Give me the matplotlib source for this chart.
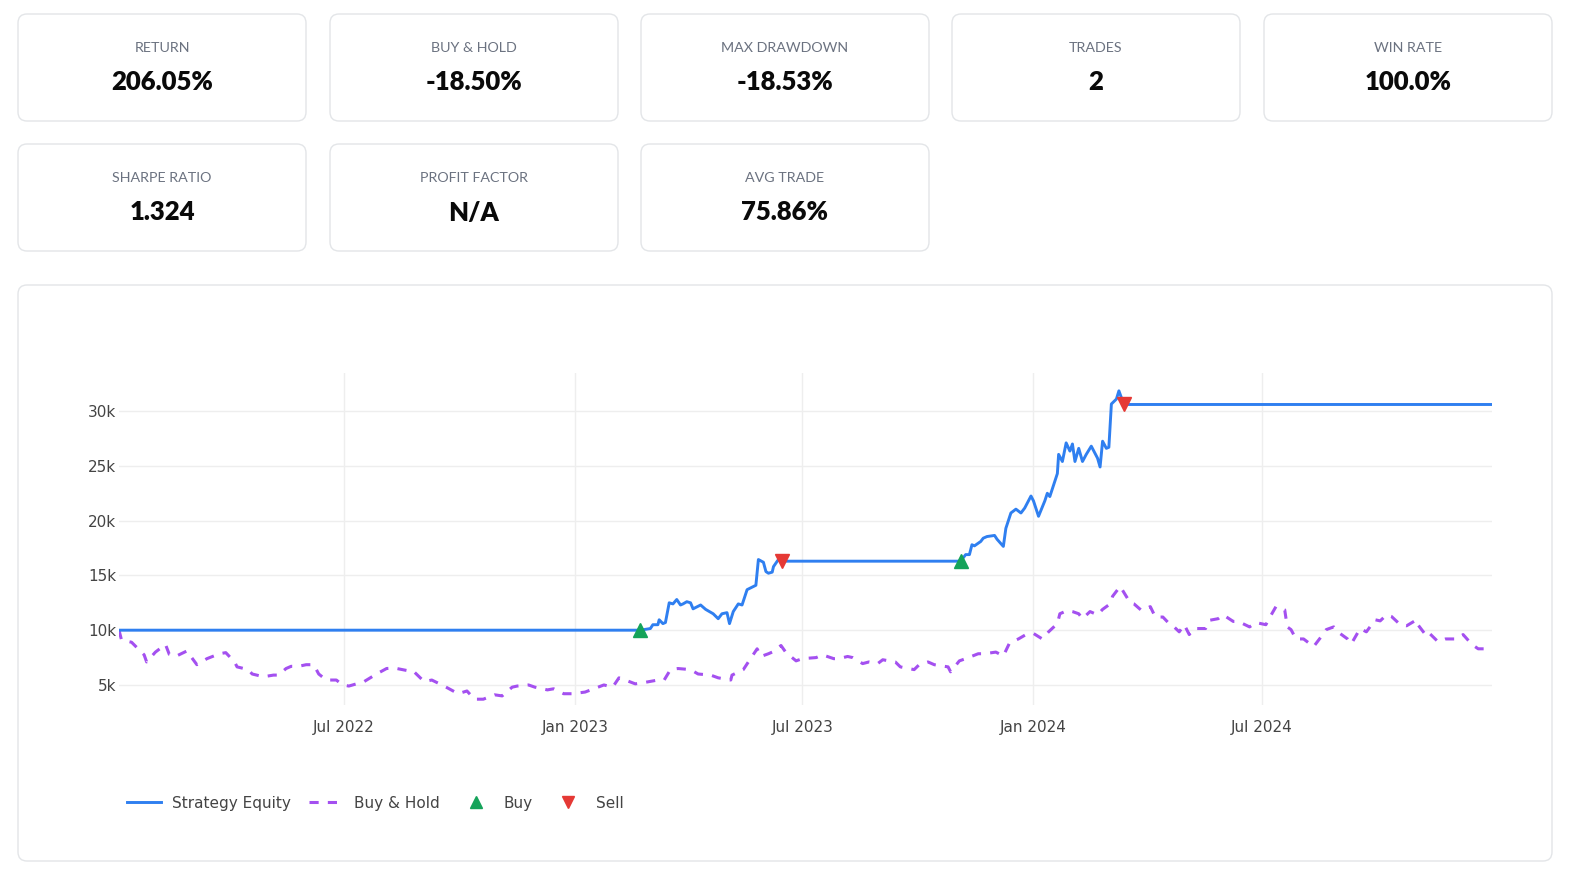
import matplotlib
matplotlib.use("Agg")
import matplotlib.pyplot as plt
import matplotlib.dates as mdates
from matplotlib.patches import FancyBboxPatch
from matplotlib.ticker import FuncFormatter, FixedLocator
import pandas as pd

# ---------------- data ----------------
card_labels = ["RETURN", "BUY & HOLD", "MAX DRAWDOWN", "TRADES", "WIN RATE",
               "SHARPE RATIO", "PROFIT FACTOR", "AVG TRADE"]
card_values = ["206.05%", "-18.50%", "-18.53%", "2", "100.0%",
               "1.324", "N/A", "75.86%"]

equity_dates = [
    "2022-01-03", "2023-02-22", "2023-03-02", "2023-03-04", "2023-03-08", "2023-03-09",
    "2023-03-12", "2023-03-14", "2023-03-17", "2023-03-20", "2023-03-23", "2023-03-26",
    "2023-03-28", "2023-03-31", "2023-04-03", "2023-04-05", "2023-04-11", "2023-04-15",
    "2023-04-21", "2023-04-25", "2023-04-28", "2023-05-02", "2023-05-04", "2023-05-07",
    "2023-05-11", "2023-05-14", "2023-05-18", "2023-05-25", "2023-05-27", "2023-05-31",
    "2023-06-02", "2023-06-04", "2023-06-07", "2023-06-08", "2023-06-11", "2023-06-13",
    "2023-06-15", "2023-11-04", "2023-11-08", "2023-11-11", "2023-11-13", "2023-11-15",
    "2023-11-20", "2023-11-22", "2023-11-25", "2023-12-01", "2023-12-03", "2023-12-08",
    "2023-12-10", "2023-12-14", "2023-12-18", "2023-12-22", "2023-12-25", "2023-12-30",
    "2024-01-01", "2024-01-05", "2024-01-10", "2024-01-12", "2024-01-14", "2024-01-20",
    "2024-01-21", "2024-01-24", "2024-01-27", "2024-01-30", "2024-02-01", "2024-02-03",
    "2024-02-06", "2024-02-09", "2024-02-12", "2024-02-16", "2024-02-21", "2024-02-23",
    "2024-02-25", "2024-02-28", "2024-03-01", "2024-03-03", "2024-03-07", "2024-03-09",
    "2024-03-12", "2024-03-13", "2024-12-31",
]
equity_values = [
    10000, 10000, 10150, 10500, 10500, 10950,
    10600, 10700, 12500, 12400, 12800, 12300,
    12400, 12600, 12500, 11950, 12300, 11900,
    11500, 11050, 11500, 11600, 10600, 11700,
    12400, 12300, 13700, 14100, 16450, 16200,
    15350, 15200, 15300, 15800, 16300, 16600,
    16300, 16300, 16900, 16900, 17800, 17700,
    18100, 18400, 18550, 18650, 18300, 17650,
    19300, 20700, 21050, 20700, 21150, 22250,
    21800, 20400, 21800, 22500, 22200, 24300,
    26050, 25400, 27100, 26350, 27000, 25400,
    26600, 25400, 26050, 26800, 25700, 24900,
    27250, 26600, 26700, 30650, 31100, 31850,
    30900, 30605, 30605,
]

bh_dates = [
    "2022-01-03", "2022-01-05", "2022-01-13", "2022-01-23", "2022-01-25", "2022-02-01",
    "2022-02-09", "2022-02-12", "2022-02-17", "2022-02-26", "2022-03-06", "2022-03-14",
    "2022-03-24", "2022-03-29", "2022-04-05", "2022-04-07", "2022-04-16", "2022-04-19",
    "2022-04-28", "2022-05-06", "2022-05-10", "2022-05-16", "2022-05-20", "2022-05-26",
    "2022-06-01", "2022-06-07", "2022-06-11", "2022-06-17", "2022-06-25", "2022-06-30",
    "2022-07-05", "2022-07-17", "2022-07-27", "2022-08-04", "2022-08-10", "2022-08-21",
    "2022-08-25", "2022-09-03", "2022-09-09", "2022-09-17", "2022-09-22", "2022-09-30",
    "2022-10-07", "2022-10-13", "2022-10-20", "2022-10-29", "2022-11-04", "2022-11-12",
    "2022-11-16", "2022-11-25", "2022-11-30", "2022-12-10", "2022-12-15", "2022-12-23",
    "2022-12-30", "2023-01-09", "2023-01-16", "2023-01-24", "2023-01-31", "2023-02-05",
    "2023-02-10", "2023-02-18", "2023-02-24", "2023-03-08", "2023-03-13", "2023-03-18",
    "2023-03-24", "2023-04-03", "2023-04-09", "2023-04-19", "2023-04-25", "2023-05-05",
    "2023-05-06", "2023-05-15", "2023-05-19", "2023-05-26", "2023-05-29", "2023-06-04",
    "2023-06-07", "2023-06-14", "2023-06-18", "2023-06-26", "2023-07-01", "2023-07-12",
    "2023-07-17", "2023-07-26", "2023-07-30", "2023-08-06", "2023-08-10", "2023-08-18",
    "2023-08-23", "2023-08-30", "2023-09-03", "2023-09-13", "2023-09-17", "2023-09-28",
    "2023-10-02", "2023-10-09", "2023-10-14", "2023-10-25", "2023-10-27", "2023-11-03",
    "2023-11-08", "2023-11-18", "2023-11-23", "2023-12-02", "2023-12-08", "2023-12-13",
    "2023-12-20", "2023-12-26", "2024-01-01", "2024-01-08", "2024-01-13", "2024-01-20",
    "2024-01-22", "2024-01-28", "2024-02-01", "2024-02-06", "2024-02-09", "2024-02-15",
    "2024-02-21", "2024-02-25", "2024-03-02", "2024-03-04", "2024-03-10", "2024-03-14",
    "2024-03-18", "2024-03-21", "2024-03-27", "2024-04-03", "2024-04-07", "2024-04-13",
    "2024-04-18", "2024-04-21", "2024-04-26", "2024-04-30", "2024-05-04", "2024-05-08",
    "2024-05-17", "2024-05-20", "2024-05-27", "2024-05-31", "2024-06-08", "2024-06-12",
    "2024-06-21", "2024-06-26", "2024-07-04", "2024-07-07", "2024-07-12", "2024-07-19",
    "2024-07-21", "2024-07-24", "2024-07-28", "2024-08-03", "2024-08-07", "2024-08-11",
    "2024-08-17", "2024-08-21", "2024-08-27", "2024-09-01", "2024-09-07", "2024-09-10",
    "2024-09-17", "2024-09-22", "2024-09-29", "2024-10-03", "2024-10-08", "2024-10-12",
    "2024-10-19", "2024-10-24", "2024-11-01", "2024-11-02", "2024-11-08", "2024-11-10",
    "2024-11-18", "2024-11-24", "2024-12-03", "2024-12-08", "2024-12-15", "2024-12-20",
    "2024-12-28", "2024-12-31",
]
bh_values = [
    10000, 9100, 8900, 7750, 7100, 8000,
    8700, 7800, 7600, 8100, 6850, 7400,
    7850, 7950, 7100, 6650, 6400, 6000,
    5750, 5900, 5900, 6500, 6700, 6700,
    6850, 6850, 6000, 5450, 5450, 5000,
    4900, 5300, 6000, 6500, 6550, 6300,
    6300, 5300, 5450, 5000, 4700, 4200,
    4450, 3700, 3700, 4100, 4000, 4800,
    4900, 5000, 4800, 4550, 4650, 4200,
    4200, 4350, 4650, 5000, 4800, 5650,
    5450, 5100, 5200, 5450, 5450, 6400,
    6500, 6400, 6000, 5900, 5650, 5450,
    5900, 6400, 7100, 8300, 7600, 7850,
    8000, 8600, 7950, 7200, 7400, 7500,
    7750, 7400, 7400, 7600, 7500, 6950,
    7100, 6950, 7300, 7100, 6650, 6400,
    6850, 7100, 6850, 6650, 6200, 7200,
    7400, 7850, 7850, 8000, 7650, 8850,
    9200, 9600, 9700, 9200, 9850, 10600,
    11500, 11800, 11700, 11500, 11050, 11700,
    11400, 11900, 12400, 13100, 14000, 13250,
    12500, 12400, 11800, 12150, 11200, 11200,
    10600, 10400, 9850, 10500, 9600, 10150,
    10150, 10900, 11050, 11400, 10800, 10800,
    10300, 10700, 10500, 11150, 12150, 11850,
    10300, 10050, 9200, 9200, 8850, 8500,
    9400, 10050, 10300, 9700, 9200, 8750,
    10150, 9850, 10950, 10850, 11400, 11250,
    10500, 10400, 10950, 10500, 9600, 9850,
    8950, 9200, 9200, 9600, 8700, 8300,
    8300, 8150,
]

buy_dates = ["2023-02-22", "2023-11-04"]
buy_values = [10000, 16300]
sell_dates = ["2023-06-15", "2024-03-13"]
sell_values = [16300, 30605]

y_ticks = [5000, 10000, 15000, 20000, 25000, 30000]
x_ticks = ["2022-07-01", "2023-01-01", "2023-07-01", "2024-01-01", "2024-07-01"]

# ---------------- styling ----------------
BLUE = "#2f7ff0"
PURPLE = "#a450f0"
GREEN = "#15a35a"
RED = "#e53935"
TICK_COLOR = "#444444"
GRID = "#eeeeee"
BORDER = "#e3e5e8"

W, H = 1572, 880
fig = plt.figure(figsize=(W / 100, H / 100), dpi=100)
fig.patch.set_facecolor("white")

# background layer in pixel coordinates for the cards / panel
bg = fig.add_axes([0, 0, 1, 1])
bg.set_xlim(0, W)
bg.set_ylim(H, 0)
bg.axis("off")

card_boxes = [(18, 14), (330, 14), (641, 14), (952, 14), (1264, 14),
              (18, 144), (330, 144), (641, 144)]
card_w, card_h = 288, 107
for (x0, y0), lab, val in zip(card_boxes, card_labels, card_values):
    bg.add_patch(FancyBboxPatch((x0, y0), card_w, card_h,
                                boxstyle="round,pad=0,rounding_size=9",
                                facecolor="white", edgecolor=BORDER, linewidth=1))
    cx = x0 + card_w / 2
    bg.text(cx, y0 + 33.5, lab, ha="center", va="center", fontsize=10.3,
            color="#6b7280", family="Lato")
    bg.text(cx, y0 + 68.5, val, ha="center", va="center", fontsize=18.5,
            color="#0a0a0a", family="Lato", fontweight="heavy")

# chart panel
bg.add_patch(FancyBboxPatch((18, 285), 1534, 576,
                            boxstyle="round,pad=0,rounding_size=9",
                            facecolor="white", edgecolor=BORDER, linewidth=1))

# ---------------- chart ----------------
left, right, top, bottom = 119, 1492, 373, 705
ax = fig.add_axes([left / W, 1 - bottom / H, (right - left) / W, (bottom - top) / H])
ax.patch.set_alpha(0)

eq_d = pd.to_datetime(equity_dates)
bh_d = pd.to_datetime(bh_dates)

ax.plot(bh_d, bh_values, color=PURPLE, lw=2.2, linestyle=(0, (3.0, 3.0)),
        label="Buy & Hold", zorder=3)
ax.plot(eq_d, equity_values, color=BLUE, lw=2.1, label="Strategy Equity", zorder=4,
        solid_joinstyle="round")
ax.plot(pd.to_datetime(buy_dates), buy_values, linestyle="none", marker="^",
        markersize=9.5, color=GREEN, label="Buy", zorder=5)
ax.plot(pd.to_datetime(sell_dates), sell_values, linestyle="none", marker="v",
        markersize=9.5, color=RED, label="Sell", zorder=5)

ax.set_xlim(pd.Timestamp(bh_dates[0]), pd.Timestamp(bh_dates[-1]))
ax.set_ylim(3170, 33480)

ax.yaxis.set_major_locator(FixedLocator(y_ticks))
ax.yaxis.set_major_formatter(FuncFormatter(lambda v, p: f"{int(v / 1000)}k"))
ax.xaxis.set_major_locator(FixedLocator(mdates.date2num(pd.to_datetime(x_ticks))))
ax.xaxis.set_major_formatter(mdates.DateFormatter("%b %Y"))

ax.grid(True, color=GRID, linewidth=1)
ax.set_axisbelow(True)
for s in ax.spines.values():
    s.set_visible(False)
ax.tick_params(axis="both", length=0, labelsize=11, labelcolor=TICK_COLOR,
               labelfontfamily="DejaVu Sans")
ax.tick_params(axis="x", pad=11)
ax.tick_params(axis="y", pad=2)

# legend
handles, labels = ax.get_legend_handles_labels()
order = [labels.index(n) for n in ["Strategy Equity", "Buy & Hold", "Buy", "Sell"]]
leg = fig.legend([handles[i] for i in order], [labels[i] for i in order],
                 loc="center left", bbox_to_anchor=(127 / W, 1 - 803 / H),
                 ncol=4, frameon=False, fontsize=11, handlelength=2.25,
                 handletextpad=0.7, columnspacing=1.2, borderpad=0,
                 borderaxespad=0, labelcolor=TICK_COLOR, markerscale=0.85)

fig.savefig("out.png", dpi=100, facecolor="white")
